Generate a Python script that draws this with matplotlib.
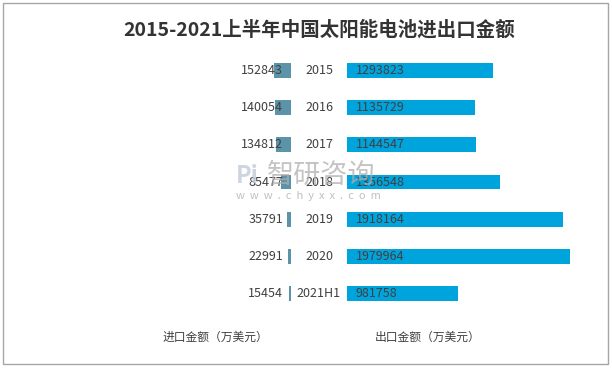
import matplotlib
matplotlib.use('Agg')
import matplotlib.pyplot as plt
import matplotlib.patches as mpatches
from matplotlib.transforms import blended_transform_factory

plt.rcParams['font.family'] = ['Noto Sans CJK SC', 'DejaVu Sans']

years = ['2015', '2016', '2017', '2018', '2019', '2020', '2021H1']
imports = [152843, 140054, 134812, 85477, 35791, 22991, 15454]
exports = [1293823, 1135729, 1144547, 1356548, 1918164, 1979964, 981758]

W, H = 612, 368
px_per_unit = 1.127e-4
color_in = '#5B93A9'
color_out = '#00A4DC'
text_color = '#404040'

fig = plt.figure(figsize=(W / 100, H / 100), dpi=100)

def fx(px):
    return px / W

bottom = 1 - 312.1 / H
height = (312.1 - 51.9) / H

# left side: imports (inverted)
left_l, right_l = 200, 291
ax_l = fig.add_axes([fx(left_l), bottom, fx(right_l - left_l), height])
ax_l.set_xlim((right_l - left_l) / px_per_unit, 0)

# right side: exports
left_r, right_r = 347, 595
ax_r = fig.add_axes([fx(left_r), bottom, fx(right_r - left_r), height])
ax_r.set_xlim(0, (right_r - left_r) / px_per_unit)

pos = list(range(len(years)))
ax_l.barh(pos, imports, height=0.4, color=color_in)
ax_r.barh(pos, exports, height=0.4, color=color_out)

for ax in (ax_l, ax_r):
    ax.set_ylim(len(years) - 0.5, -0.5)
    ax.axis('off')

for i in pos:
    ax_l.text(8 / px_per_unit, i, str(imports[i]), ha='right', va='center',
              fontsize=9, color=text_color)
    ax_r.text(9 / px_per_unit, i, str(exports[i]), ha='left', va='center',
              fontsize=9, color=text_color)

trans = blended_transform_factory(fig.transFigure, ax_r.transData)
for i, y in enumerate(years):
    ax_r.text(fx(319), i, y, transform=trans, ha='center', va='center',
              fontsize=9, color=text_color, clip_on=False)

fig.text(fx(319), 1 - 30 / H, '2015-2021上半年中国太阳能电池进出口金额',
         ha='center', va='center', fontsize=14, fontweight='bold', color='#333333')

fig.text(fx(215), 1 - 337 / H, '进口金额（万美元）', ha='center', va='center',
         fontsize=8.5, color=text_color)
fig.text(fx(428), 1 - 337 / H, '出口金额（万美元）', ha='center', va='center',
         fontsize=8.5, color=text_color)

# watermark
fig.text(fx(236), 1 - 176 / H, 'Pi', ha='left', va='center',
         fontsize=17, fontweight='bold', color='#C5CEDC', alpha=0.85)
fig.text(fx(267), 1 - 175 / H, '智研咨询', ha='left', va='center',
         fontsize=19.5, color='#AFAFAF', alpha=0.75)
fig.text(fx(236), 1 - 196 / H, 'w  w  w  .  c  h  y  x  x  .  c  o  m', ha='left',
         va='center', fontsize=8, color='#B5B5B5', alpha=0.85)

# outer frame
frame = mpatches.Rectangle((fx(3), 1 - 364 / H), fx(605), 361 / H,
                           transform=fig.transFigure, fill=False,
                           edgecolor='#A6A6A6', lw=1)
fig.patches.append(frame)

plt.savefig('out.png', dpi=100)
plt.close()
